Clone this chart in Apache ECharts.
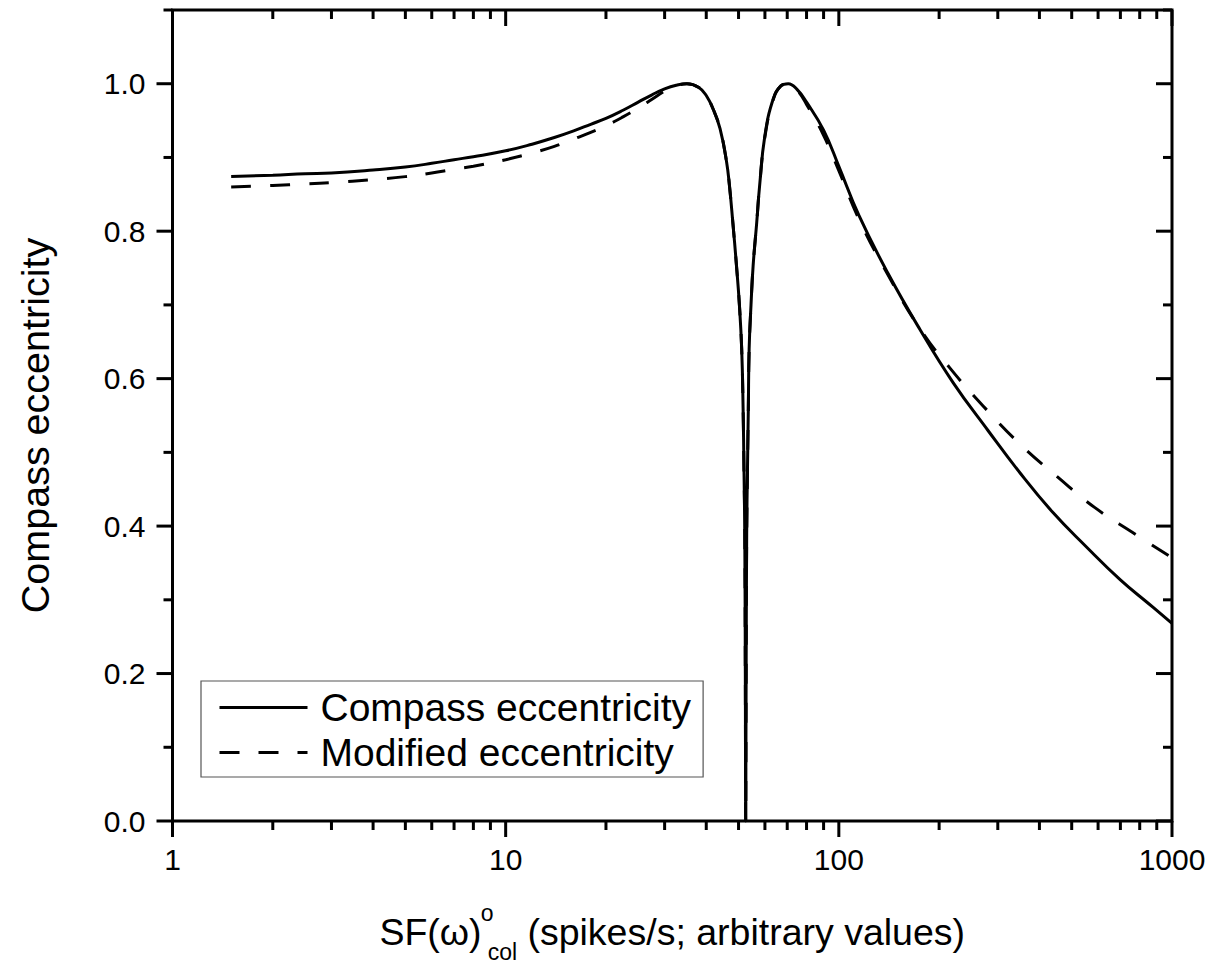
<!DOCTYPE html>
<html>
<head>
<meta charset="utf-8">
<script src="https://cdn.jsdelivr.net/npm/echarts@6/dist/echarts.min.js"></script>
<style>
html,body{margin:0;padding:0;background:#fff;}
#chart{width:1219px;height:967px;}
</style>
</head>
<body>
<div id="chart"></div>
<script>
// ---- data ----
const seriesNames = ['Compass eccentricity', 'Modified eccentricity'];

const compassX = [1.5, 2, 2.5, 3, 4, 5, 6, 7, 8, 10, 12, 14, 16, 18, 20, 22.5, 25, 27.5, 30, 32.5, 35, 38, 40, 42, 44, 46, 47, 48, 49.3, 50.3, 51.1, 51.6, 51.9, 52.2, 52.4, 52.55, 52.7, 52.9, 53.2, 53.5, 53.8, 54.5, 55.3, 56.7, 57.8, 60, 63.6, 67, 70.5, 75, 80, 90, 100, 115, 140, 175, 220, 280, 350, 440, 550, 700, 850, 1000];
const compassY = [0.874, 0.876, 0.878, 0.879, 0.883, 0.887, 0.892, 0.897, 0.901, 0.909, 0.918, 0.927, 0.936, 0.945, 0.953, 0.964, 0.975, 0.985, 0.993, 0.998, 1.000, 0.995, 0.984, 0.965, 0.939, 0.895, 0.860, 0.815, 0.753, 0.700, 0.640, 0.560, 0.481, 0.390, 0.200, 0.000, 0.200, 0.390, 0.481, 0.560, 0.640, 0.700, 0.753, 0.812, 0.860, 0.930, 0.980, 0.997, 1.000, 0.992, 0.975, 0.937, 0.888, 0.821, 0.744, 0.667, 0.595, 0.530, 0.472, 0.418, 0.373, 0.327, 0.295, 0.268];

const modifiedX = [1.5, 2, 2.5, 3, 4, 5, 6, 7, 8, 10, 12, 14, 16, 18, 20, 22.5, 25, 27.5, 30, 32.5, 35, 38, 40, 42, 44, 46, 47, 48, 49.3, 50.3, 51.1, 51.6, 51.9, 52.2, 52.4, 52.55, 52.7, 52.9, 53.2, 53.5, 53.8, 54.5, 55.3, 56.7, 57.8, 60, 63.6, 67, 70.5, 75, 80, 90, 100, 115, 140, 175, 215, 271, 350, 455, 587, 764, 1000];
const modifiedY = [0.860, 0.862, 0.864, 0.866, 0.870, 0.874, 0.879, 0.884, 0.888, 0.897, 0.906, 0.915, 0.925, 0.934, 0.943, 0.955, 0.967, 0.979, 0.990, 0.997, 1.000, 0.995, 0.984, 0.965, 0.939, 0.895, 0.860, 0.815, 0.753, 0.700, 0.640, 0.560, 0.481, 0.390, 0.200, 0.000, 0.200, 0.390, 0.481, 0.560, 0.640, 0.700, 0.753, 0.812, 0.860, 0.928, 0.979, 0.997, 1.000, 0.991, 0.972, 0.930, 0.882, 0.816, 0.742, 0.668, 0.615, 0.563, 0.511, 0.466, 0.425, 0.391, 0.357];

const xMajorTicks = [1, 10, 100, 1000];
const xMinorTicks = [2, 3, 4, 5, 6, 7, 8, 9, 20, 30, 40, 50, 60, 70, 80, 90, 200, 300, 400, 500, 600, 700, 800, 900];
const yMajorTicks = [0.0, 0.2, 0.4, 0.6, 0.8, 1.0];
const yMinorTicks = [0.1, 0.3, 0.5, 0.7, 0.9, 1.1];
const yLabels = ['0.0', '0.2', '0.4', '0.6', '0.8', '1.0'];

// ---- chart ----
const FONT = 'Liberation Sans, Arial, Helvetica, sans-serif';
const zip = (xs, ys) => xs.map((x, i) => [x, ys[i]]);

function xTickRenderer(len) {
  return function (params, api) {
    const cs = params.coordSys;
    const px = api.coord([api.value(0), 0.5])[0];
    const bottom = cs.y + cs.height, top = cs.y;
    return {
      type: 'group',
      children: [
        { type: 'line', shape: { x1: px, y1: bottom, x2: px, y2: bottom + len }, style: { stroke: '#000', lineWidth: 3 } },
        { type: 'line', shape: { x1: px, y1: top, x2: px, y2: top + len }, style: { stroke: '#000', lineWidth: 3 } }
      ]
    };
  };
}
function yTickRenderer(len) {
  return function (params, api) {
    const cs = params.coordSys;
    const py = api.coord([10, api.value(1)])[1];
    const left = cs.x, right = cs.x + cs.width;
    return {
      type: 'group',
      children: [
        { type: 'line', shape: { x1: left - len, y1: py, x2: left, y2: py }, style: { stroke: '#000', lineWidth: 3 } },
        { type: 'line', shape: { x1: right - len, y1: py, x2: right, y2: py }, style: { stroke: '#000', lineWidth: 3 } }
      ]
    };
  };
}

const chart = echarts.init(document.getElementById('chart'), null, { renderer: 'svg' });
chart.setOption({
  backgroundColor: '#fff',
  animation: false,
  grid: {
    left: 172.5, right: 47, top: 10, bottom: 146,
    outerBoundsMode: 'none', containLabel: false,
    show: true, borderColor: '#000', borderWidth: 3, backgroundColor: 'transparent'
  },
  legend: {
    data: seriesNames,
    orient: 'vertical',
    left: 201, top: 681,
    borderColor: '#555', borderWidth: 1.2,
    padding: [7, 12, 5, 17],
    itemGap: 6,
    itemWidth: 88, itemHeight: 14,
    itemStyle: { opacity: 0 },
    lineStyle: { width: 3, opacity: 1 },
    textStyle: { fontFamily: FONT, fontSize: 39, color: '#000', padding: [0, 0, 0, 8] }
  },
  xAxis: {
    type: 'log', logBase: 10, min: 1, max: 1000,
    axisLine: { show: false },
    axisTick: { show: false },
    splitLine: { show: false },
    minorTick: { show: false },
    axisLabel: {
      fontFamily: FONT, fontSize: 30, color: '#000', margin: 23,
      formatter: function (v) { return String(Math.round(v)); }
    },
    name: '{m|SF(ω)}{sup|o}{sub|col}{m| (spikes/s; arbitrary values)}',
    nameLocation: 'middle',
    nameGap: 80,
    nameTextStyle: {
      fontFamily: FONT, color: '#000',
      rich: {
        m: { fontFamily: FONT, fontSize: 37.5, color: '#000', lineHeight: 62 },
        sup: { fontFamily: FONT, fontSize: 23, color: '#000', verticalAlign: 'top', lineHeight: 22, width: 1, padding: [0, 0, 0, 5] },
        sub: { fontFamily: FONT, fontSize: 23, color: '#000', verticalAlign: 'bottom', lineHeight: 22 }
      }
    }
  },
  yAxis: {
    type: 'value', min: 0, max: 1.1, interval: 0.1,
    axisLine: { show: false },
    axisTick: { show: false },
    splitLine: { show: false },
    axisLabel: {
      fontFamily: FONT, fontSize: 30, color: '#000', margin: 27,
      formatter: function (v) {
        for (let i = 0; i < yMajorTicks.length; i++) {
          if (Math.abs(v - yMajorTicks[i]) < 1e-6) return yLabels[i];
        }
        return '';
      }
    },
    name: 'Compass eccentricity',
    nameLocation: 'middle',
    nameGap: 118,
    nameTextStyle: { fontFamily: FONT, fontSize: 39.5, color: '#000', padding: [0, 20, 0, 0] }
  },
  series: [
    {
      name: seriesNames[0], type: 'line', data: zip(compassX, compassY),
      symbol: 'none', smooth: 0.45, clip: true,
      lineStyle: { color: '#000', width: 3, type: 'solid' },
      itemStyle: { color: '#000' }, z: 3
    },
    {
      name: seriesNames[1], type: 'line', data: zip(modifiedX, modifiedY),
      symbol: 'none', smooth: 0.45, clip: true,
      lineStyle: { color: '#000', width: 3, type: [20, 19] },
      itemStyle: { color: '#000' }, z: 2
    },
    { type: 'custom', silent: true, clip: false, data: xMajorTicks.map(v => [v, 0.5]), encode: { x: 0, y: 1 }, renderItem: xTickRenderer(16) },
    { type: 'custom', silent: true, clip: false, data: xMinorTicks.map(v => [v, 0.5]), encode: { x: 0, y: 1 }, renderItem: xTickRenderer(9) },
    { type: 'custom', silent: true, clip: false, data: yMajorTicks.map(v => [10, v]), encode: { x: 0, y: 1 }, renderItem: yTickRenderer(16) },
    { type: 'custom', silent: true, clip: false, data: yMinorTicks.map(v => [10, v]), encode: { x: 0, y: 1 }, renderItem: yTickRenderer(9) }
  ]
});
</script>
</body>
</html>
